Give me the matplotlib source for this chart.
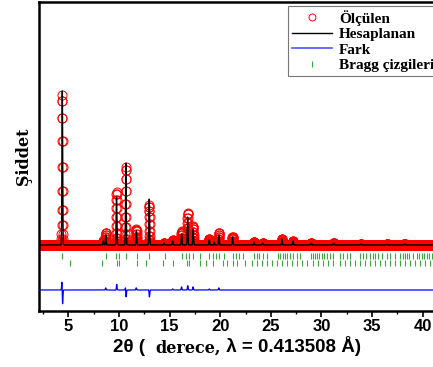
import numpy as np
import matplotlib.pyplot as plt
from matplotlib.lines import Line2D

# peak positions (2theta) and heights
peak_pos = [4.40, 8.45, 8.70, 9.76, 10.68, 11.72, 12.99, 14.45, 15.30, 16.19, 16.78,
            17.33, 18.92, 19.40, 19.87, 21.22, 23.35, 24.20, 26.10, 27.20, 29.00,
            31.20, 33.90, 36.50, 38.20]
obs_height = [150, 4, 12, 53, 78, 16, 40, 2, 5, 14, 32,
              19, 6, 3, 12, 8, 3, 2, 6, 4, 2,
              2, 1, 1, 1]
calc_pos = [4.404, 8.45, 8.702, 9.758, 10.683, 11.722, 12.993, 14.45, 15.30, 16.192, 16.778,
            17.332, 18.92, 19.40, 19.872, 21.22, 23.35, 24.20, 26.10, 27.20, 29.00,
            31.20, 33.90, 36.50, 38.20]
calc_height = [155, 4, 10, 48, 82, 14, 46, 2, 4, 11, 28,
               16, 5, 3, 10, 8, 3, 2, 6, 4, 2,
               2, 1, 1, 1]

bragg_1 = [4.39, 8.71, 9.69, 9.96, 10.68, 11.74, 12.99, 14.54, 16.18, 16.58, 16.94,
           17.34, 18.0, 18.92, 19.31, 19.58, 19.9, 20.37, 21.29, 21.55, 21.82, 22.28,
           23.33, 23.59, 23.86, 24.25, 24.58, 25.73, 25.9, 26.16, 26.39, 26.56, 26.89,
           27.22, 27.55, 27.88, 28.93, 29.13, 29.36, 29.52, 29.79, 30.02, 30.25, 30.58,
           30.84, 31.17, 31.83, 32.16, 32.55, 32.82, 33.8, 34.13, 34.4, 34.79, 35.06,
           35.29, 35.62, 35.95, 36.44, 36.77, 37.26, 37.76, 38.02, 38.24, 38.47, 38.67,
           39.07, 39.4, 39.67, 39.9, 40.13, 40.39, 40.66, 40.89]
bragg_2 = [5.15, 8.31, 9.76, 10.02, 11.8, 12.72, 14.37, 15.36, 16.68, 16.94, 18.0,
           18.59, 19.31, 20.23, 20.69, 21.29, 21.68, 22.44, 23.1, 23.59, 24.09, 24.58,
           25.08, 25.57, 26.06, 26.56, 27.05, 27.55, 28.04, 28.53, 29.19, 29.69, 30.18,
           30.67, 31.17, 31.83, 32.32, 32.82, 33.31, 33.8, 34.3, 34.79, 35.29, 35.78,
           36.28, 36.77, 37.26, 37.76, 38.25, 38.74, 39.24, 39.74, 40.23, 40.72]

sigma = 0.035
diff_offset = -45
bragg_rows = [-11, -18]

tth = np.arange(2.0, 42.0, 0.01)
y_obs = np.zeros_like(tth)
y_calc = np.zeros_like(tth)
for p, h in zip(peak_pos, obs_height):
    y_obs += h * np.exp(-0.5 * ((tth - p) / sigma) ** 2)
for p, h in zip(calc_pos, calc_height):
    y_calc += h * np.exp(-0.5 * ((tth - p) / sigma) ** 2)
y_diff = y_obs - y_calc + diff_offset

sans = 'Liberation Sans'
serif = 'Liberation Serif'
wide_serif = 'DejaVu Serif'

fig = plt.figure(figsize=(4.33, 3.67), dpi=100)
ax = fig.add_axes([0.09, 0.1526, 0.933, 0.842])

ax.plot(tth, y_obs, 'o', mfc='none', mec='red', ms=6.5, mew=0.7, zorder=2)
ax.plot(tth, y_calc, color='black', lw=1.0, zorder=3)
ax.plot(tth, y_diff, color='blue', lw=0.9, zorder=3)
ax.plot(bragg_1, np.full(len(bragg_1), bragg_rows[0]), '|', color='#3aa83a', ms=5, mew=0.8)
ax.plot(bragg_2, np.full(len(bragg_2), bragg_rows[1]), '|', color='#3aa83a', ms=5, mew=0.8)

ax.set_xlim(2.1, 42)
ax.set_ylim(-66, 243)
ax.set_yticks([])
ax.set_xticks(np.arange(5, 45, 5))
ax.set_xticks(np.arange(2.5, 42, 2.5), minor=True)
ax.tick_params(axis='x', which='major', direction='out', length=4, width=1.2, pad=2)
ax.tick_params(axis='x', which='minor', direction='out', length=2.5, width=1.0)
for lab in ax.get_xticklabels():
    lab.set_fontfamily(sans)
    lab.set_fontweight('bold')
    lab.set_fontsize(12)
for s in ax.spines.values():
    s.set_linewidth(1.8)

ax.set_ylabel('Şiddet', fontfamily=wide_serif, fontweight='bold', fontsize=11.5, labelpad=5)

handles = [
    Line2D([], [], ls='none', marker='o', mfc='none', mec='red', ms=5, mew=0.7),
    Line2D([], [], color='black', lw=1.0),
    Line2D([], [], color='#5050ff', lw=1.2),
    Line2D([], [], ls='none', marker='|', color='#3aa83a', ms=5, mew=0.8),
]
labels = ['Ölçülen', 'Hesaplanan', 'Fark', 'Bragg çizgileri']
leg = fig.legend(handles, labels, loc='upper left', bbox_to_anchor=(288 / 433, 1 - 6 / 367),
                 prop={'family': serif, 'weight': 'bold', 'size': 11},
                 frameon=True, fancybox=False, edgecolor='#777777', framealpha=1,
                 handlelength=2.6, handletextpad=0.5, labelspacing=0.12,
                 borderpad=0.25, borderaxespad=0)
leg.get_frame().set_linewidth(0.8)

# x label with mixed fonts, placed side by side on a common baseline
y_lab = 0.04
parts = [('2θ (  ', sans, 13.5), ('derece,', wide_serif, 11.5), (' λ = 0.413508 Å)', sans, 13.5)]
texts = [fig.text(0, y_lab, s, fontfamily=f, fontweight='bold', fontsize=sz, va='baseline')
         for s, f, sz in parts]
fig.canvas.draw()
r = fig.canvas.get_renderer()
x = 113
for t in texts:
    t.set_x(x / fig.bbox.width)
    x += t.get_window_extent(r).width

fig.savefig('out.png', dpi=100)
